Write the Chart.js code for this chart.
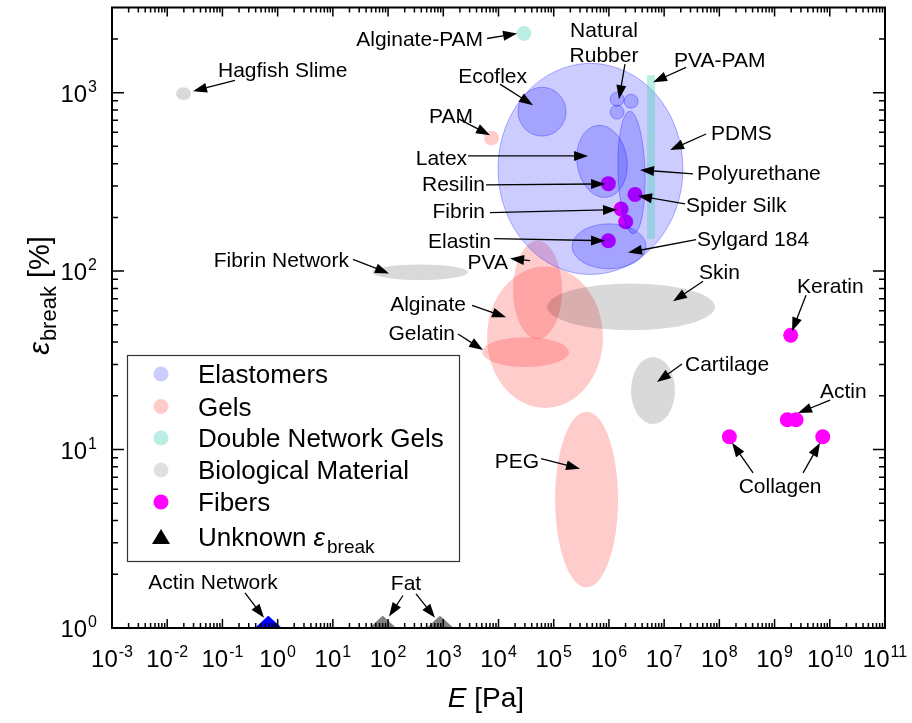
<!DOCTYPE html>
<html>
  <head>
    <title>Stiffness vs strain at break</title>
    <style>
      body {
        margin: 0;
        background: #fff;
      }
      .chart-container {
        position: relative;
        width: 912px;
        height: 723px;
      }
    </style>
  </head>
  <body>
    <div class="chart-container">
      <canvas id="ashby-chart" width="912" height="723"></canvas>
    </div>

    <script src="https://cdn.jsdelivr.net/npm/chart.js"></script>
    <script>
      var FONT = '"Liberation Sans", Arial, sans-serif'

      // Regions (ellipses), bounds in E [Pa] and strain at break [%]
      var regionNames = ["Alginate", "PVA", "Gelatin", "PEG", "PAM", "Skin", "Cartilage", "Fibrin Network", "Hagfish Slime",
        "PDMS", "Ecoflex", "Latex", "Polyurethane", "Sylgard 184", "Natural Rubber", "Natural Rubber", "Natural Rubber",
        "Alginate-PAM", "PVA-PAM"]
      var regionGroups = ["gel", "gel", "gel", "gel", "gel", "bio", "bio", "bio", "bio",
        "elast", "elast", "elast", "elast", "elast", "elast", "elast", "elast", "dn", "dn"]
      var regionEMin = [6.2e3, 1.83e4, 5.03e3, 1.06e5, 5.47e3, 7.57e4, 2.51e6, 51.2, 0.0144,
        9.8e3, 2.26e4, 2.64e5, 1.46e6, 2.15e5, 1.05e6, 1.88e6, 1.05e6, 2.12e4, 4.9e6]
      var regionEMax = [7.8e5, 1.42e5, 1.89e5, 1.46e6, 1.02e4, 8.36e7, 1.57e7, 2805, 0.027,
        2.19e7, 1.67e5, 2.13e6, 4.51e6, 4.7e6, 1.88e6, 3.37e6, 1.88e6, 3.96e4, 6.84e6]
      var regionSMin = [17.1, 41.5, 29.0, 1.69, 506, 46.6, 13.9, 89.1, 908,
        95.7, 571, 258, 162, 103, 839, 818, 711, 1950, 152]
      var regionSMax = [106, 148, 42.6, 16.3, 612, 85.3, 33.0, 108.9, 1072,
        1459, 1072, 658, 787, 184, 1005, 979, 851, 2360, 1250]

      // Fibers (points)
      var fiberNames = ["Resilin", "Spider Silk", "Fibrin", "Fibrin", "Elastin", "Keratin", "Actin", "Actin", "Collagen", "Collagen"]
      var fiberE = [9.75e5, 2.97e6, 1.66e6, 2.01e6, 9.75e5, 1.96e9, 1.70e9, 2.45e9, 1.52e8, 7.46e9]
      var fiberS = [309, 269, 223, 189, 148, 43.7, 14.7, 14.7, 11.8, 11.8]

      // Unknown strain at break (sit on the bottom axis)
      var unknownNames = ["Actin Network", "Fat", "Fat"]
      var unknownE = [0.678, 80, 873]
      var unknownS = [1, 1, 1]

      var legendLabels = ["Elastomers", "Gels", "Double Network Gels", "Biological Material", "Fibers", "Unknown"]
      var xExponents = [-3, -2, -1, 0, 1, 2, 3, 4, 5, 6, 7, 8, 9, 10, 11]
      var yExponents = [0, 1, 2, 3]

      // annotation layout: arrow tips in data units, tails / text as pixel offsets from first tip
      var notes = [
        { text: ["Alginate-PAM"], align: "right", tips: [[2.17e4, 2145]], tails: [[-30, 5]], at: [-34, 5] },
        { text: ["Hagfish Slime"], align: "left", tips: [[0.0293, 1018]], tails: [[42, -11]], at: [25, -22] },
        { text: ["Natural", "Rubber"], align: "center", tips: [[1.52e6, 919]], tails: [[6, -35]], at: [-15, -70] },
        { text: ["PVA-PAM"], align: "left", tips: [[6.3e6, 1143]], tails: [[33, -15]], at: [21, -23] },
        { text: ["Ecoflex"], align: "right", tips: [[4.22e4, 851]], tails: [[-33, -21]], at: [-6, -30] },
        { text: ["PAM"], align: "right", tips: [[7030, 578]], tails: [[-31, -16]], at: [-17, -20] },
        { text: ["PDMS"], align: "left", tips: [[1.28e7, 477]], tails: [[36, -16]], at: [41, -18] },
        { text: ["Latex"], align: "right", tips: [[4.19e5, 442]], tails: [[-120, 0]], at: [-121, 2] },
        { text: ["Polyurethane"], align: "left", tips: [[3.66e6, 369]], tails: [[53, 4]], at: [57, 3] },
        { text: ["Resilin"], align: "right", tips: [[8.5e5, 308]], tails: [[-119, 1]], at: [-120, 0] },
        { text: ["Spider Silk"], align: "left", tips: [[3.37e6, 264]], tails: [[47, 8]], at: [48, 9] },
        { text: ["Fibrin"], align: "right", tips: [[1.4e6, 221]], tails: [[-127, 3]], at: [-132, 1] },
        { text: ["Elastin"], align: "right", tips: [[8.5e5, 148]], tails: [[-111, -2]], at: [-114, 0] },
        { text: ["Sylgard 184"], align: "left", tips: [[2.22e6, 127]], tails: [[68, -13]], at: [69, -14] },
        { text: ["PVA"], align: "right", tips: [[1.62e4, 117.6]], tails: [[20, 2]], at: [-2, 3] },
        { text: ["Fibrin Network"], align: "right", tips: [[104, 97]], tails: [[-36, -14]], at: [-40, -14] },
        { text: ["Alginate"], align: "right", tips: [[1.37e4, 55.1]], tails: [[-34, -12]], at: [-40, -14] },
        { text: ["Gelatin"], align: "right", tips: [[5250, 36.1]], tails: [[-25, -16]], at: [-28, -18] },
        { text: ["Skin"], align: "left", tips: [[1.45e7, 67.7]], tails: [[30, -20]], at: [26, -30] },
        { text: ["Keratin"], align: "left", tips: [[2.07e9, 46.0]], tails: [[14, -36]], at: [5, -46] },
        { text: ["Cartilage"], align: "left", tips: [[7.43e6, 23.9]], tails: [[25, -18]], at: [28, -19] },
        { text: ["Actin"], align: "left", tips: [[2.66e9, 16.0]], tails: [[32, -13]], at: [22, -23] },
        { text: ["PEG"], align: "right", tips: [[3.0e5, 7.81]], tails: [[-39, -10]], at: [-41, -8] },
        { text: ["Collagen"], align: "center", tips: [[1.7e8, 10.9], [6.67e9, 10.9]], tails: [[21, 30], [-17, 30]], at: [48, 43] },
        { text: ["Actin Network"], align: "center", tips: [[0.566, 1.14]], tails: [[-19, -25]], at: [-51, -36] },
        { text: ["Fat"], align: "center", tips: [[104, 1.16], [708, 1.14]], tails: [[14, -21], [-19, -24]], at: [17, -34] },
      ]

      var groupFill = {
        elast: "rgba(0, 0, 255, 0.2)",
        gel: "rgba(255, 0, 0, 0.2)",
        dn: "rgba(60, 210, 175, 0.35)",
        bio: "rgba(0, 0, 0, 0.15)",
      }
      var tilt = { Latex: -0.14, Polyurethane: -0.03 }

      function text(ctx, str, x, yMid, align, size, italic) {
        ctx.font = (italic ? "italic " : "") + size + "px " + FONT
        ctx.textAlign = align
        ctx.textBaseline = "alphabetic"
        ctx.fillText(str, x, yMid + size * 0.36)
      }

      function arrow(ctx, x1, y1, x2, y2) {
        var a = Math.atan2(y2 - y1, x2 - x1)
        var L = 14, W = 5
        var bx = x2 - L * Math.cos(a), by = y2 - L * Math.sin(a)
        ctx.lineWidth = 1.3
        ctx.beginPath()
        ctx.moveTo(x1, y1)
        ctx.lineTo(bx + 3 * Math.cos(a), by + 3 * Math.sin(a))
        ctx.stroke()
        ctx.beginPath()
        ctx.moveTo(x2, y2)
        ctx.lineTo(bx - W * Math.sin(a), by + W * Math.cos(a))
        ctx.lineTo(bx + W * Math.sin(a), by - W * Math.cos(a))
        ctx.closePath()
        ctx.fill()
      }

      function pow10(ctx, exp, x, baseY, align) {
        ctx.font = "24px " + FONT
        var wb = ctx.measureText("10").width
        ctx.font = "16px " + FONT
        var we = ctx.measureText(String(exp)).width
        var total = wb + we + 1
        var start = align === "center" ? x - total / 2 : x - total
        ctx.textAlign = "left"
        ctx.textBaseline = "alphabetic"
        ctx.font = "24px " + FONT
        ctx.fillText("10", start, baseY)
        ctx.font = "16px " + FONT
        ctx.fillText(String(exp), start + wb + 1, baseY - 10)
      }

      var overlay = {
        id: "overlay",
        afterDatasetsDraw: function (chart) {
          var ctx = chart.ctx
          var xs = chart.scales.x, ys = chart.scales.y
          var area = chart.chartArea
          var px = function (v) { return xs.getPixelForValue(v) }
          var py = function (v) { return ys.getPixelForValue(v) }

          // regions
          ctx.save()
          ctx.beginPath()
          ctx.rect(area.left, area.top, area.right - area.left, area.bottom - area.top)
          ctx.clip()
          var order = ["gel", "bio", "elast", "dn"]
          order.forEach(function (grp) {
            regionNames.forEach(function (name, i) {
              if (regionGroups[i] !== grp) return
              var x0 = px(regionEMin[i]), x1 = px(regionEMax[i])
              var y0 = py(regionSMax[i]), y1 = py(regionSMin[i])
              ctx.fillStyle = groupFill[grp]
              ctx.beginPath()
              if (name === "PVA-PAM") {
                ctx.rect(x0, y0, x1 - x0, y1 - y0)
              } else {
                ctx.ellipse((x0 + x1) / 2, (y0 + y1) / 2, (x1 - x0) / 2, (y1 - y0) / 2, tilt[name] || 0, 0, Math.PI * 2)
              }
              ctx.fill()
              if (grp === "elast") {
                ctx.strokeStyle = "rgba(0, 0, 255, 0.3)"
                ctx.lineWidth = 1
                ctx.stroke()
              }
            })
          })
          ctx.restore()

          // annotations
          ctx.save()
          ctx.fillStyle = "#000"
          ctx.strokeStyle = "#000"
          notes.forEach(function (n) {
            var bx = px(n.tips[0][0]), by = py(n.tips[0][1])
            n.tips.forEach(function (t, k) {
              var tx = px(t[0]), ty = py(t[1])
              arrow(ctx, tx + n.tails[k][0], ty + n.tails[k][1], tx, ty)
            })
            n.text.forEach(function (line, k) {
              text(ctx, line, bx + n.at[0], by + n.at[1] + k * 25, n.align, 21)
            })
          })
          ctx.restore()

          // unknown-strain markers: triangles standing on the bottom axis
          ctx.save()
          ctx.lineJoin = "round"
          ctx.lineWidth = 2
          unknownE.forEach(function (e, i) {
            var x = px(e), y = Math.min(py(unknownS[i]), area.bottom)
            var col = unknownNames[i] === "Fat" ? "#808080" : "#0000ff"
            ctx.fillStyle = col
            ctx.strokeStyle = col
            ctx.beginPath()
            ctx.moveTo(x - 12, y)
            ctx.lineTo(x + 12, y)
            ctx.lineTo(x, y - 11)
            ctx.closePath()
            ctx.fill()
            ctx.stroke()
          })
          ctx.restore()

          // frame and inward ticks on all four sides
          ctx.save()
          ctx.strokeStyle = "#000"
          ctx.fillStyle = "#000"
          ctx.lineWidth = 2
          ctx.strokeRect(area.left, area.top, area.right - area.left, area.bottom - area.top)
          ctx.lineWidth = 1.5
          ctx.beginPath()
          xExponents.forEach(function (e, i) {
            var x = px(Math.pow(10, e))
            ctx.moveTo(x, area.bottom); ctx.lineTo(x, area.bottom - 9)
            ctx.moveTo(x, area.top); ctx.lineTo(x, area.top + 9)
            if (i < xExponents.length - 1) {
              for (var k = 2; k < 10; k++) {
                var xm = px(k * Math.pow(10, e))
                ctx.moveTo(xm, area.bottom); ctx.lineTo(xm, area.bottom - 5)
                ctx.moveTo(xm, area.top); ctx.lineTo(xm, area.top + 5)
              }
            }
          })
          yExponents.forEach(function (e) {
            var y = py(Math.pow(10, e))
            ctx.moveTo(area.left, y); ctx.lineTo(area.left + 12, y)
            ctx.moveTo(area.right, y); ctx.lineTo(area.right - 12, y)
            for (var k = 2; k < 10; k++) {
              var v = k * Math.pow(10, e)
              if (v >= ys.max) break
              var ym = py(v)
              ctx.moveTo(area.left, ym); ctx.lineTo(area.left + 6, ym)
              ctx.moveTo(area.right, ym); ctx.lineTo(area.right - 6, ym)
            }
          })
          ctx.stroke()

          // tick labels
          xExponents.forEach(function (e) {
            pow10(ctx, e, px(Math.pow(10, e)), area.bottom + 39, "center")
          })
          yExponents.forEach(function (e) {
            pow10(ctx, e, area.left - 15, py(Math.pow(10, e)) + 9, "right")
          })

          // axis titles
          ctx.textBaseline = "alphabetic"
          ctx.textAlign = "left"
          ctx.font = "italic 28px " + FONT
          var wE = ctx.measureText("E").width
          ctx.font = "28px " + FONT
          var wPa = ctx.measureText(" [Pa]").width
          var sx = 486 - (wE + wPa) / 2
          ctx.font = "italic 28px " + FONT
          ctx.fillText("E", sx, 707)
          ctx.font = "28px " + FONT
          ctx.fillText(" [Pa]", sx + wE, 707)

          ctx.save()
          ctx.translate(49, 296)
          ctx.rotate(-Math.PI / 2)
          ctx.font = "italic 29px " + FONT
          var we = ctx.measureText("\u03b5").width
          ctx.font = "22px " + FONT
          var wb = ctx.measureText("break").width
          ctx.font = "29px " + FONT
          var wp = ctx.measureText(" [%]").width
          var s0 = -(we + wb + wp) / 2
          ctx.font = "italic 29px " + FONT
          ctx.fillText("\u03b5", s0, 0)
          ctx.font = "22px " + FONT
          ctx.fillText("break", s0 + we + 1, 7)
          ctx.font = "29px " + FONT
          ctx.fillText(" [%]", s0 + we + wb + 1, 0)
          ctx.restore()

          // legend
          var lx = 127, ly = 355
          ctx.fillStyle = "#fff"
          ctx.fillRect(lx, ly, 332, 206)
          ctx.strokeStyle = "#333"
          ctx.lineWidth = 1.2
          ctx.strokeRect(lx + 0.5, ly + 0.5, 332, 206)
          var swatch = [groupFill.elast, groupFill.gel, groupFill.dn, "rgba(0, 0, 0, 0.12)", "#ff00ff"]
          var rows = [374, 406.5, 438, 470, 502, 536.5]
          legendLabels.forEach(function (lab, i) {
            var y = rows[i]
            if (i < 5) {
              ctx.fillStyle = swatch[i]
              ctx.beginPath()
              ctx.arc(161, y, 7.5, 0, Math.PI * 2)
              ctx.fill()
            } else {
              ctx.fillStyle = "#000"
              ctx.beginPath()
              ctx.moveTo(152, y + 7.5)
              ctx.lineTo(170, y + 7.5)
              ctx.lineTo(161, y - 7.5)
              ctx.closePath()
              ctx.fill()
            }
            ctx.fillStyle = "#000"
            text(ctx, lab, 198, y, "left", 26)
            if (i === 5) {
              ctx.font = "26px " + FONT
              var wu = ctx.measureText(lab + " ").width
              text(ctx, "\u03b5", 198 + wu, y, "left", 26, true)
              ctx.font = "italic 26px " + FONT
              var wEps = ctx.measureText("\u03b5").width
              ctx.font = "19px " + FONT
              ctx.textAlign = "left"
              ctx.fillText("break", 198 + wu + wEps + 2, y + 9.4 + 7)
            }
          })
          ctx.restore()
        },
      }

      var config = {
        type: "scatter",
        data: {
          datasets: [
            {
              label: "Fibers",
              data: fiberE.map(function (e, i) { return { x: e, y: fiberS[i] } }),
              pointRadius: 7.5,
              pointHoverRadius: 7.5,
              pointBackgroundColor: "#ff00ff",
              pointBorderWidth: 0,
            },
            {
              // drawn as triangles by the overlay plugin
              label: "Unknown",
              data: unknownE.map(function (e, i) { return { x: e, y: unknownS[i] } }),
              pointRadius: 0,
              pointHoverRadius: 0,
            },
          ],
        },
        options: {
          responsive: false,
          animation: false,
          layout: { padding: { left: 112, right: 27, top: 5, bottom: 95 } },
          plugins: { legend: { display: false }, tooltip: { enabled: false } },
          scales: {
            x: { type: "logarithmic", min: 1e-3, max: 1e11, display: false },
            y: { type: "logarithmic", min: 1, max: 3000, display: false },
          },
        },
        plugins: [overlay],
      }

      var ctx = document.getElementById("ashby-chart").getContext("2d")
      new Chart(ctx, config)
    </script>
  </body>
</html>
